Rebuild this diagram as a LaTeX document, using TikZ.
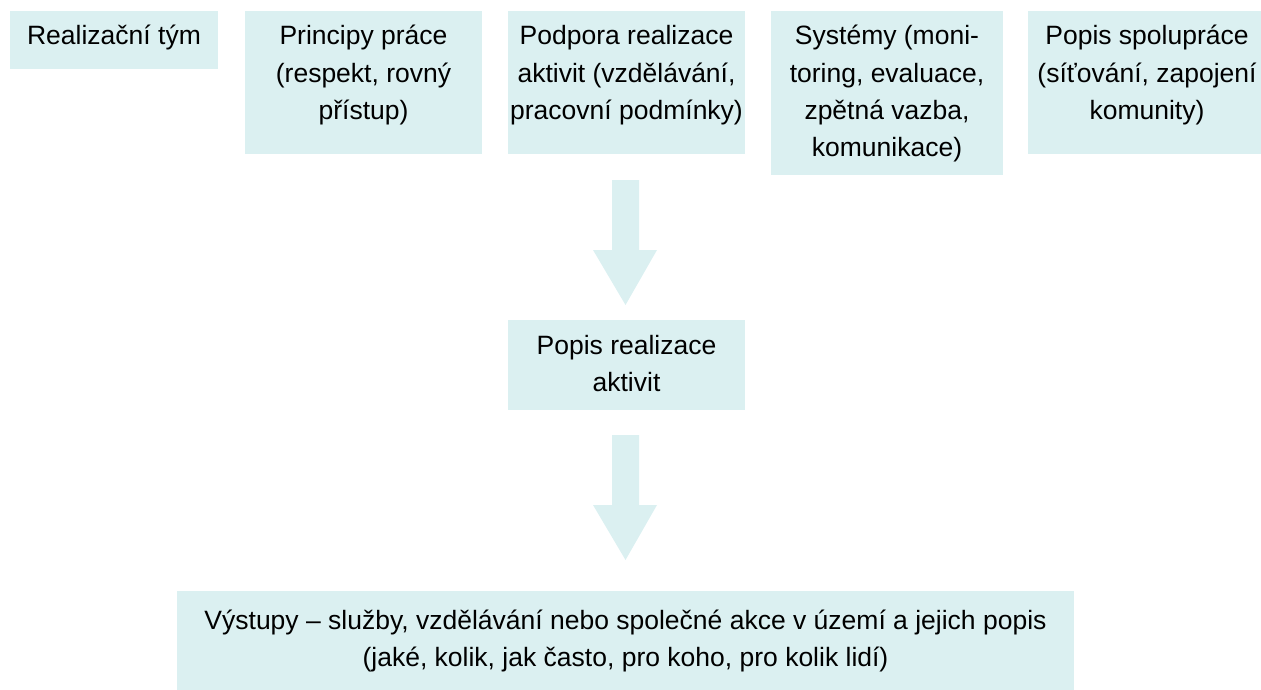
\documentclass[tikz,border=0pt]{standalone}
\usepackage{fontspec}
\setmainfont{Liberation Sans}
\usetikzlibrary{calc}
\definecolor{boxfill}{RGB}{219,240,241}
\begin{document}
\begin{tikzpicture}[x=1pt,y=-1pt,
  box/.style={fill=boxfill, draw=none, inner sep=0pt, outer sep=0pt, anchor=north west},
  lbl/.style={anchor=base, inner sep=0pt, font=\fontsize{26.5}{37.2}\selectfont, text=black},
  bigarrow/.style={fill=boxfill, draw=none}]
\useasboundingbox (0,0) rectangle (1261,690);
\setlength{\tabcolsep}{0pt}
% boxes
\node[box, minimum width=208pt, minimum height=58pt]  (b1) at (10,11) {};
\node[box, minimum width=237pt, minimum height=143pt] (b2) at (245,11) {};
\node[box, minimum width=237pt, minimum height=143pt] (b3) at (508,11) {};
\node[box, minimum width=232pt, minimum height=164pt] (b4) at (771,11) {};
\node[box, minimum width=233pt, minimum height=143pt] (b5) at (1028,11) {};
\node[box, minimum width=237pt, minimum height=90pt]  (b6) at (508,320) {};
\node[box, minimum width=897pt, minimum height=99pt]  (b7) at (177,591) {};
% labels
\node[lbl] (t1) at (114,45) {\begin{tabular}[t]{c}Realizační tým\end{tabular}};
\node[lbl] (t2) at (363.5,45) {\begin{tabular}[t]{c}Principy práce\\(respekt, rovný\\přístup)\end{tabular}};
\node[lbl] (t3) at (626.5,45) {\begin{tabular}[t]{c}Podpora realizace\\aktivit (vzdělávání,\\pracovní podmínky)\end{tabular}};
\node[lbl] (t4) at (887,45) {\begin{tabular}[t]{c}Systémy (moni-\\toring, evaluace,\\zpětná vazba,\\komunikace)\end{tabular}};
\node[lbl] (t5) at (1147,45) {\begin{tabular}[t]{c}Popis spolupráce\\(síťování, zapojení\\komunity)\end{tabular}};
\node[lbl] (t6) at (626.5,354) {\begin{tabular}[t]{c}Popis realizace\\aktivit\end{tabular}};
\node[lbl] (t7) at (625.5,629) {\begin{tabular}[t]{c}Výstupy – služby, vzdělávání nebo společné akce v území a jejich popis\\(jaké, kolik, jak často, pro koho, pro kolik lidí)\end{tabular}};
% block arrows
\coordinate (a1s) at ($(b3.south)+(-1,26)$);
\coordinate (a1t) at ($(b6.north)+(-1,-15)$);
\fill[bigarrow] ($(a1s)+(-13.5,0)$) -- ($(a1s)+(13.5,0)$) -- ($(a1t)+(13.5,-55)$) -- ($(a1t)+(31.5,-55)$)
  -- (a1t) -- ($(a1t)+(-32.5,-55)$) -- ($(a1t)+(-13.5,-55)$) -- cycle;
\coordinate (a2s) at ($(b6.south)+(-1,25)$);
\coordinate (a2t) at ($(b7.north)+(0,-31)$);
\fill[bigarrow] ($(a2s)+(-13.5,0)$) -- ($(a2s)+(13.5,0)$) -- ($(a2t)+(13.5,-55)$) -- ($(a2t)+(31.5,-55)$)
  -- (a2t) -- ($(a2t)+(-32.5,-55)$) -- ($(a2t)+(-13.5,-55)$) -- cycle;
\end{tikzpicture}
\end{document}
